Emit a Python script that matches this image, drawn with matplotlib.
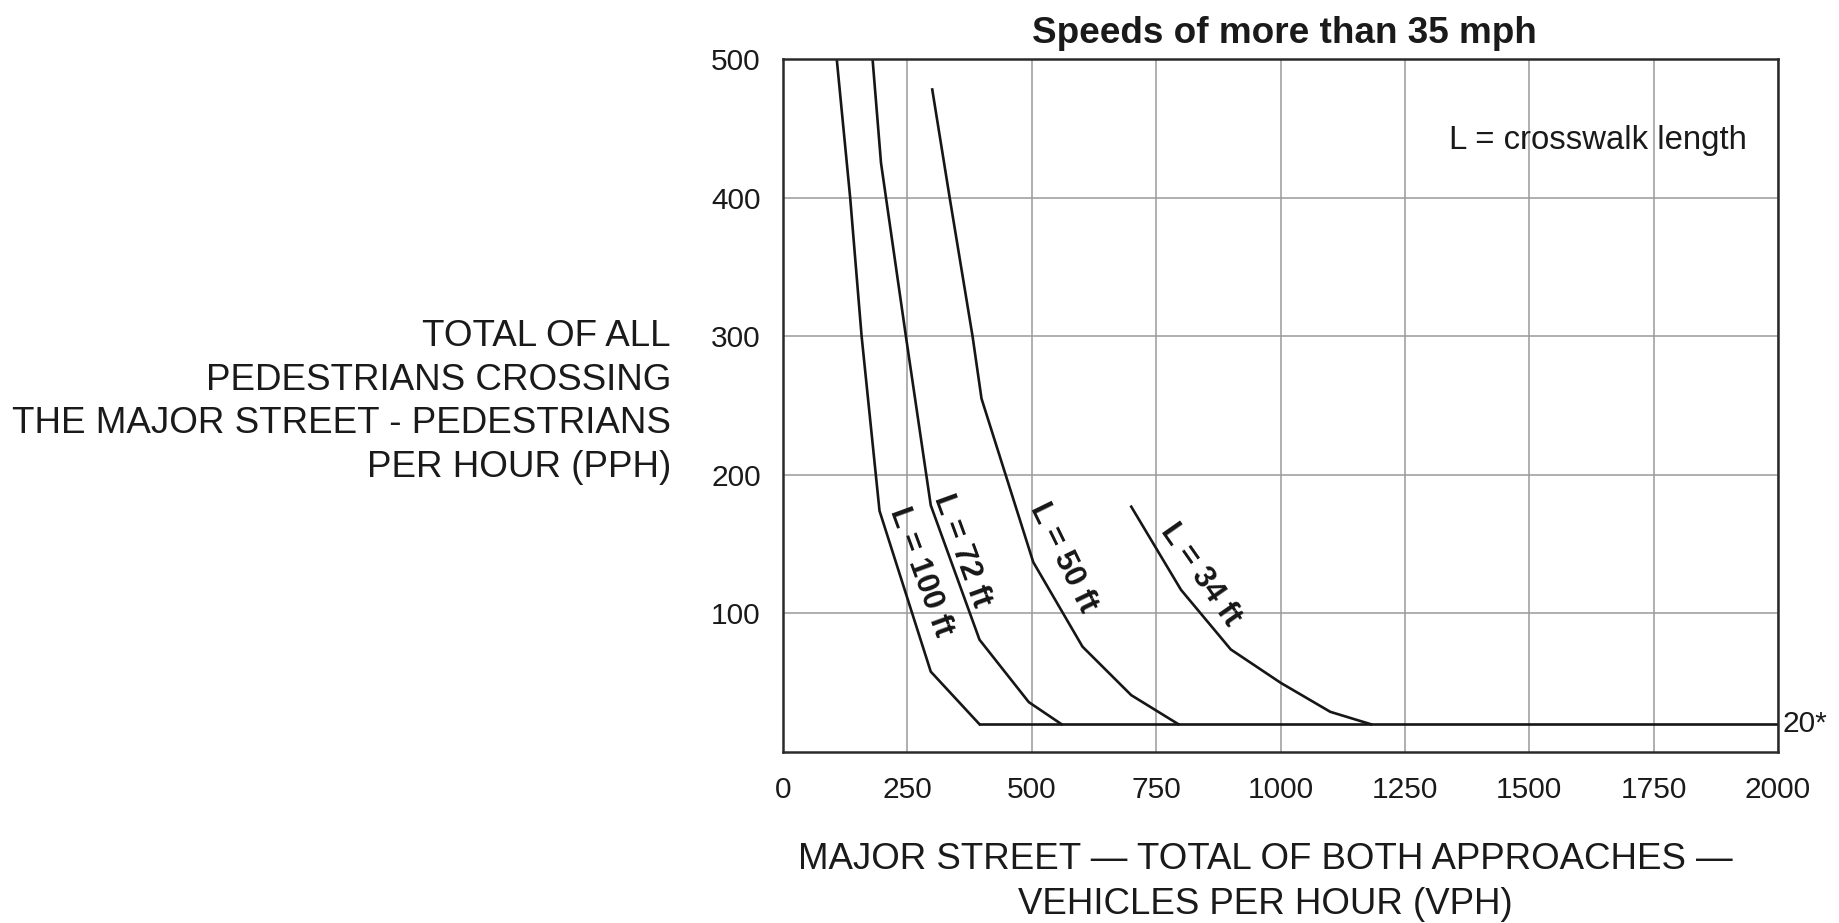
import matplotlib
matplotlib.use("Agg")
import matplotlib.pyplot as plt

plt.rcParams['font.family'] = ['Liberation Sans', 'DejaVu Sans']

# ---- data ----
l100_x = [108, 135, 158, 194, 297, 395]
l100_y = [500, 400, 300, 174, 58, 20]

l72_x = [180, 197, 247, 297, 395, 494, 560]
l72_y = [500, 425, 300, 178, 81, 36, 20]

l50_x = [300, 335, 381, 399, 503, 602, 700, 795]
l50_y = [478, 400, 300, 255, 137, 76, 41, 20]

l34_x = [700, 800, 900, 1000, 1100, 1182]
l34_y = [177, 117, 74, 50, 29, 20]

base_x = [395, 2000]
base_y = [20, 20]

curve_labels = ["L = 100 ft", "L = 72 ft", "L = 50 ft", "L = 34 ft"]
label_x = [276, 360, 563, 838]
label_y = [130, 145, 140, 128]
label_rot = [-70, -70, -64, -55]

x_ticks = [0, 250, 500, 750, 1000, 1250, 1500, 1750, 2000]
y_ticks = [100, 200, 300, 400, 500]

title = "Speeds of more than 35 mph"
xlabel = "MAJOR STREET \u2014 TOTAL OF BOTH APPROACHES \u2014\nVEHICLES PER HOUR (VPH)"
ylabel = "TOTAL OF ALL\nPEDESTRIANS CROSSING\nTHE MAJOR STREET - PEDESTRIANS\nPER HOUR (PPH)"
note = "L = crosswalk length"
min_label = "20*"

# ---- figure ----
fig = plt.figure(figsize=(18.39, 9.23), dpi=100)
ax = fig.add_axes([783/1839, 1-752/923, (1778-783)/1839, (752-59)/923])

ax.set_xlim(0, 2000)
ax.set_ylim(0, 500)
ax.set_xticks(x_ticks)
ax.set_yticks(y_ticks)
ax.grid(True, color='#9a9a9a', linewidth=1.1)
ax.set_axisbelow(True)
ax.tick_params(axis='both', length=0, labelsize=21.5, colors='#1a1a1a')
ax.tick_params(axis='x', pad=17)
ax.tick_params(axis='y', pad=16)
for s in ax.spines.values():
    s.set_linewidth(1.8)
    s.set_color('#2a2a2a')

line_kw = dict(color='#161616', linewidth=1.9, solid_joinstyle='miter')
for xs, ys in [(l100_x, l100_y), (l72_x, l72_y), (l50_x, l50_y), (l34_x, l34_y), (base_x, base_y)]:
    ax.plot(xs, ys, **line_kw)

for t, x, y, r in zip(curve_labels, label_x, label_y, label_rot):
    ax.text(x, y, t, rotation=r, rotation_mode='anchor', ha='center', va='center',
            fontsize=22.5, fontweight='bold', color='#161616')

ax.text(1338, 441, note, ha='left', va='center', fontsize=23.7, color='#1a1a1a')
ax.text(2010, 20, min_label, ha='left', va='center', fontsize=21.5, color='#1a1a1a', clip_on=False)

fig.text(1284/1839, 1-43/923, title, ha='center', va='baseline', fontsize=26.6,
         fontweight='bold', color='#1a1a1a')
fig.text(1265/1839, 1-882/923, xlabel, ha='center', va='center', fontsize=26.4,
         linespacing=1.34, color='#1a1a1a')
fig.text(671/1839, 1-402/923, ylabel, ha='right', va='center', multialignment='right',
         fontsize=26.5, linespacing=1.31, color='#1a1a1a')

fig.savefig("out.png", dpi=100)
